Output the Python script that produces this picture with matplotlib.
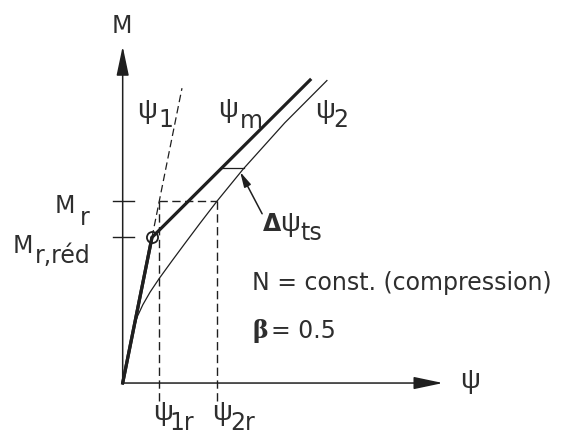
import numpy as np
import matplotlib
matplotlib.use("Agg")
import matplotlib.pyplot as plt

# --- values (psi in units of psi_1r, M in units of M_r) ---
M_r = 1.00
M_r_red = 0.80
psi_1r = 1.00
psi_2r = 2.58

# state I (uncracked): psi_1 = M (unit stiffness)
psi1_top = 1.62

# mean curvature psi_m (tension stiffening, beta = 0.5)
psim_psi = [0.0, 0.80, 5.12]
psim_M = [0.0, 0.80, 1.665]

# state II (cracked) curve psi_2
psi2_psi = [0.0, 0.30, 0.40, 0.55, 0.75, 1.00, 1.35, 1.70, 2.11, 2.58, 3.29, 4.43, 5.58]
psi2_M = [0.0, 0.30, 0.365, 0.43, 0.50, 0.575, 0.672, 0.767, 0.877, 1.00, 1.175, 1.43, 1.662]

# level at which the tension-stiffening offset is marked
dpsi_ts_M = 1.18

# axis extents
psi_axis_end = 8.75
M_axis_end = 1.85

LINE = "#1f1f1f"
TXT = "#2e2e2e"
FS = 17
PSI_FONT = dict(family="Liberation Sans", fontsize=20)

plt.rcParams["font.family"] = ["DejaVu Sans"]

fig = plt.figure(figsize=(5.68, 4.39), dpi=100)
ax = fig.add_axes([0, 0, 1, 1])
ax.set_xlim(-3.352, 12.167)
ax.set_ylim(-0.302, 2.110)
ax.axis("off")

arrow_kw = dict(arrowstyle="-|>,head_length=1.8,head_width=0.38",
                mutation_scale=10, lw=1.1, color=LINE, shrinkA=0, shrinkB=0)
# axes with arrows
ax.annotate("", xy=(psi_axis_end, 0), xytext=(0, 0), arrowprops=arrow_kw)
ax.annotate("", xy=(0, M_axis_end), xytext=(0, 0), arrowprops=arrow_kw)

# ticks on M axis
for m in (M_r, M_r_red):
    ax.plot([-0.26, 0.30], [m, m], color=LINE, lw=1.0)

dash = (0, (6, 3.2))
# psi_1 line: solid up to cracking, dashed beyond
ax.plot([0, M_r_red], [0, M_r_red], color=LINE, lw=2.3, solid_capstyle="round")
ax.plot([M_r_red, psi1_top], [M_r_red, psi1_top], color=LINE, lw=0.9, linestyle=dash)

# psi_m (thick)
ax.plot(psim_psi, psim_M, color=LINE, lw=2.3, solid_joinstyle="round")
# psi_2 (thin)
ax.plot(psi2_psi, psi2_M, color=LINE, lw=0.9)

# cracking point
ax.plot([M_r_red], [M_r_red], marker="o", ms=8, mfc="none", mec=LINE, mew=1.3)

# projection lines at M_r
ax.plot([psi_1r, psi_2r], [M_r, M_r], color=LINE, lw=1.0, linestyle=dash)
for p in (psi_1r, psi_2r):
    ax.plot([p, p], [M_r, -0.115], color=LINE, lw=1.0, linestyle=dash)

# tension stiffening offset
x_m = np.interp(dpsi_ts_M, psim_M, psim_psi)
x_2 = np.interp(dpsi_ts_M, psi2_M, psi2_psi)
ax.plot([x_m, x_2], [dpsi_ts_M, dpsi_ts_M], color=LINE, lw=0.9)
tip_M = dpsi_ts_M - 0.02
ax.annotate("", xy=(np.interp(tip_M, psi2_M, psi2_psi) - 0.02, tip_M),
            xytext=(3.81, 0.93),
            arrowprops=dict(arrowstyle="-|>,head_length=0.9,head_width=0.22",
                            mutation_scale=10, lw=1.1, color=LINE,
                            shrinkA=0, shrinkB=0))

def t(x, y, s, **kw):
    kw.setdefault("fontsize", FS)
    kw.setdefault("color", TXT)
    kw.setdefault("va", "baseline")
    kw.setdefault("ha", "left")
    ax.text(x, y, s, **kw)

def psi(x, y):
    t(x, y, "ψ", **PSI_FONT)

# axis labels
t(-0.02, 1.929, "M", ha="center")
psi(9.22, -0.02)

# curve labels
psi(0.39, 1.462)
t(0.967, 1.412, "1")
psi(2.60, 1.467)
t(3.21, 1.407, "m")
psi(5.25, 1.462)
t(5.74, 1.412, "2")

# moment labels
t(-1.85, 0.940, "M")
t(-1.166, 0.874, "r")
t(-3.0, 0.720, "M")
t(-2.40, 0.665, "r,réd")

# delta psi_ts
t(3.83, 0.841, "Δ", fontweight="bold")
psi(4.30, 0.841)
t(4.85, 0.791, "ts")

t(3.54, 0.516, "N = const. (compression)")
t(3.56, 0.253, "β", fontweight="bold", family="DejaVu Serif")
t(4.05, 0.253, "= 0.5")

# curvature labels on psi axis
psi(0.83, -0.195)
t(1.29, -0.250, "1r")
psi(2.44, -0.195)
t(2.93, -0.250, "2r")

fig.savefig("out.png", dpi=100, facecolor="white")
